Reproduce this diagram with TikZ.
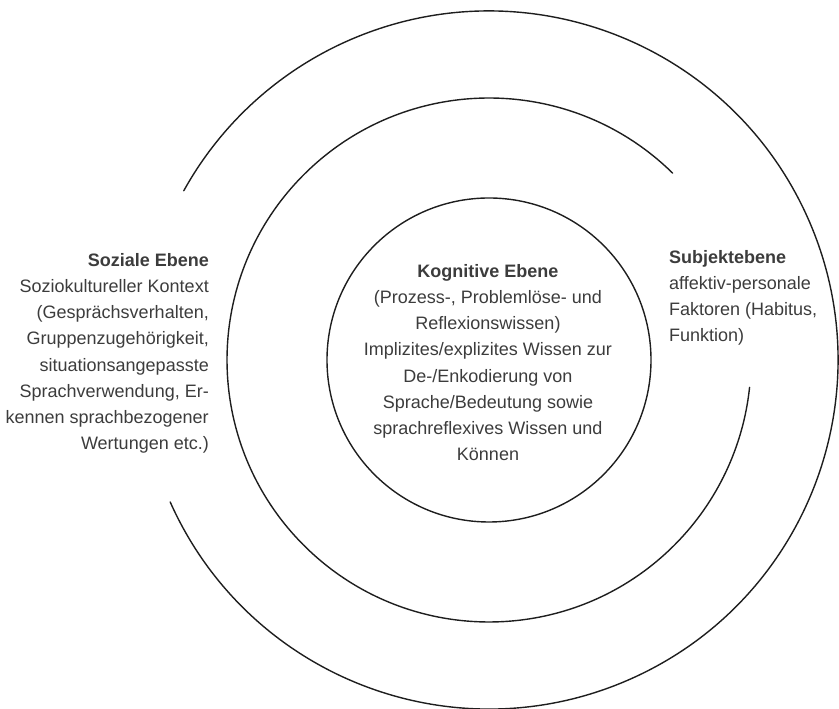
\documentclass[tikz,border=0pt]{standalone}
\usepackage{fontspec}
\setmainfont{Liberation Sans}
\usepackage{xcolor}
\usepackage{tikz}
\usetikzlibrary{positioning}
\definecolor{ebline}{RGB}{30,30,30}
\definecolor{ebtext}{RGB}{60,60,60}
\tikzset{
  ring/.style={draw=ebline, line width=1.4pt},
  lvl/.style={
    inner sep=0pt, text=ebtext,
    font=\fontsize{18}{26.2}\selectfont
  },
  every picture/.append style={line cap=round}
}

\begin{document}
\begin{tikzpicture}[x=1pt,y=1pt]
  \useasboundingbox (0,0) rectangle (839,709);
  \coordinate (ctr) at (489,349);

  \draw[ring] (ctr) circle[radius=162];
  \draw[ring] (ctr) ++(45.5:262) arc[start angle=45.5, end angle=354, radius=262];
  \draw[ring] (ctr) ++(-156:349) arc[start angle=-156, end angle=151, radius=349];

  \node[lvl, align=center, anchor=north] (kogn) at (488,445)
    {\textbf{Kognitive Ebene}\\(Prozess-, Problemlöse- und\\Reflexionswissen)\\Implizites/explizites Wissen zur\\De-/Enkodierung von\\Sprache/Bedeutung sowie\\sprachreflexives Wissen und\\Können};
  \node[lvl, align=right, anchor=north east] (sozial) at (209,456)
    {\textbf{Soziale Ebene}\\Soziokultureller Kontext\\(Gesprächsverhalten,\\Gruppenzugehörigkeit,\\situationsangepasste\\Sprachverwendung, Er-\\kennen sprachbezogener\\Wertungen etc.)};
  \node[lvl, align=left, anchor=north west] (subj) at (669,459)
    {\textbf{Subjektebene}\\affektiv-personale\\Faktoren (Habitus,\\Funktion)};
\end{tikzpicture}
\end{document}
